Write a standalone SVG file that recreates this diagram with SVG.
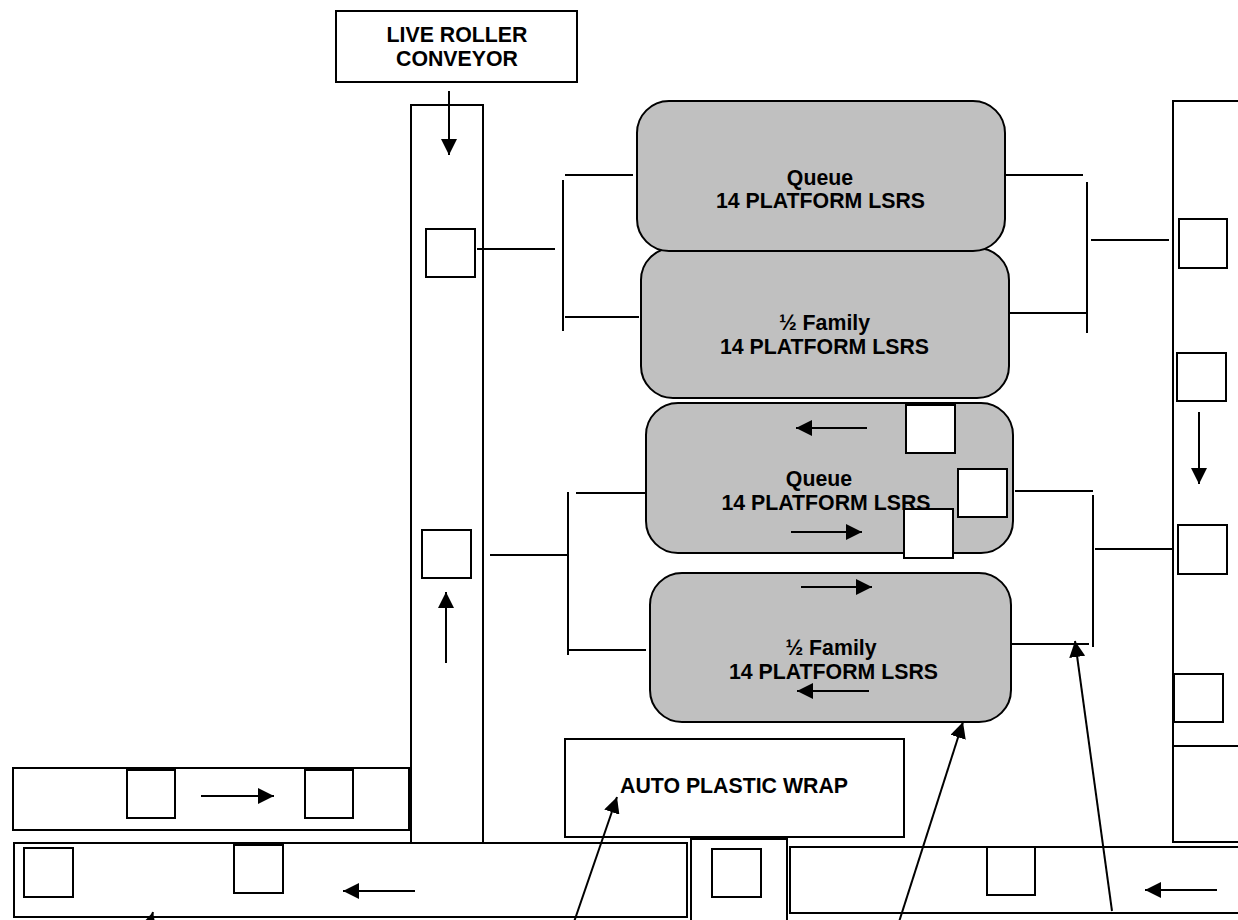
<svg xmlns="http://www.w3.org/2000/svg" width="1238" height="920" viewBox="0 0 1238 920">
<style>
.b{fill:#fff;stroke:#000;stroke-width:2}
.n{fill:#c0c0c0;stroke:#000;stroke-width:2}
.l{stroke:#000;stroke-width:2;fill:none}
.a{stroke:#000;stroke-width:2;fill:none;marker-end:url(#h)}
text{font-family:"Liberation Sans",Arial,sans-serif;font-size:21.3px;font-weight:bold;text-anchor:middle;fill:#000}
</style>
<defs>
<marker id="h" markerUnits="userSpaceOnUse" markerWidth="18" markerHeight="16" refX="16" refY="8" orient="auto"><path d="M0 0L16 8L0 16z" fill="#000"/></marker>
</defs>
<rect width="1238" height="920" fill="#fff"/>
<g id="conveyor-vertical-left"><rect class="b" x="411" y="105" width="72" height="738"/></g>
<g id="conveyor-vertical-right"><rect class="b" x="1173" y="101" width="80" height="741"/><path class="l" d="M1173 746H1238"/></g>
<g id="live-roller"><rect class="b" x="336" y="11" width="241" height="71"/><text x="457" y="42">LIVE ROLLER</text><text x="457" y="66">CONVEYOR</text></g>
<g id="conveyor-a"><rect class="b" x="13" y="768" width="396" height="62"/></g>
<g id="conveyor-b"><rect class="b" x="14" y="843" width="673" height="74"/></g>
<g id="conveyor-mid"><rect class="b" x="691" y="839" width="96" height="90"/></g>
<g id="conveyor-c"><rect class="b" x="790" y="847" width="470" height="66"/></g>
<g id="auto-wrap"><rect class="b" x="565" y="739" width="339" height="98"/><text x="734" y="793">AUTO PLASTIC WRAP</text></g>
<g id="lsr-2"><rect class="n" x="641" y="248" width="368" height="150" rx="32"/><text x="824.5" y="330">½ Family</text><text x="824.5" y="354">14 PLATFORM LSRS</text></g>
<g id="lsr-1"><rect class="n" x="637" y="101" width="368" height="150" rx="32"/><text x="820" y="185">Queue</text><text x="820.5" y="208">14 PLATFORM LSRS</text></g>
<g id="lsr-3"><rect class="n" x="646" y="403" width="367" height="150" rx="32"/><text x="819" y="486">Queue</text><text x="826" y="510">14 PLATFORM LSRS</text></g>
<g id="lsr-4"><rect class="n" x="650" y="573" width="361" height="149" rx="32"/><text x="831" y="655">½ Family</text><text x="833.5" y="679">14 PLATFORM LSRS</text></g>
<g id="squares">
<rect class="b" x="426" y="229" width="49" height="48"/>
<rect class="b" x="422" y="530" width="49" height="48"/>
<rect class="b" x="127" y="770" width="48" height="48"/>
<rect class="b" x="305" y="770" width="48" height="48"/>
<rect class="b" x="24" y="848" width="49" height="49"/>
<rect class="b" x="234" y="845" width="49" height="48"/>
<rect class="b" x="712" y="849" width="49" height="48"/>
<rect class="b" x="987" y="847" width="48" height="48"/>
<rect class="b" x="1179" y="219" width="48" height="49"/>
<rect class="b" x="1177" y="353" width="49" height="48"/>
<rect class="b" x="1178" y="525" width="49" height="49"/>
<rect class="b" x="1174" y="674" width="49" height="48"/>
<rect class="b" x="906" y="405" width="49" height="48"/>
<rect class="b" x="958" y="469" width="49" height="48"/>
<rect class="b" x="904" y="509" width="49" height="49"/>
</g>
<g id="connectors">
<path class="l" d="M477 249H555M563 180V331M565 175H633M565 317H639"/>
<path class="l" d="M1005 175H1083M1087 182V333M1009 313H1087M1091 240H1169"/>
<path class="l" d="M490 555H567M568 492V655M576 493H646M569 650H646"/>
<path class="l" d="M1015 491H1093M1093 495V647M1011 644H1089M1095 549H1172"/>
<path class="a" d="M449 91V155"/>
<path class="a" d="M446 663V592"/>
<path class="a" d="M1199 412V484"/>
<path class="a" d="M201 796H274"/>
<path class="a" d="M415 891H343"/>
<path class="a" d="M1217 890H1145"/>
<path class="a" d="M867 428H796"/>
<path class="a" d="M791 532H862"/>
<path class="a" d="M801 587H872"/>
<path class="a" d="M869 691H797"/>
<path class="a" d="M1112 911L1075 641"/>
<path class="a" d="M898 925L963 722"/>
<path class="a" d="M574 922L617 797"/>
<path class="a" d="M142 950L153 912"/>
</g>
</svg>
